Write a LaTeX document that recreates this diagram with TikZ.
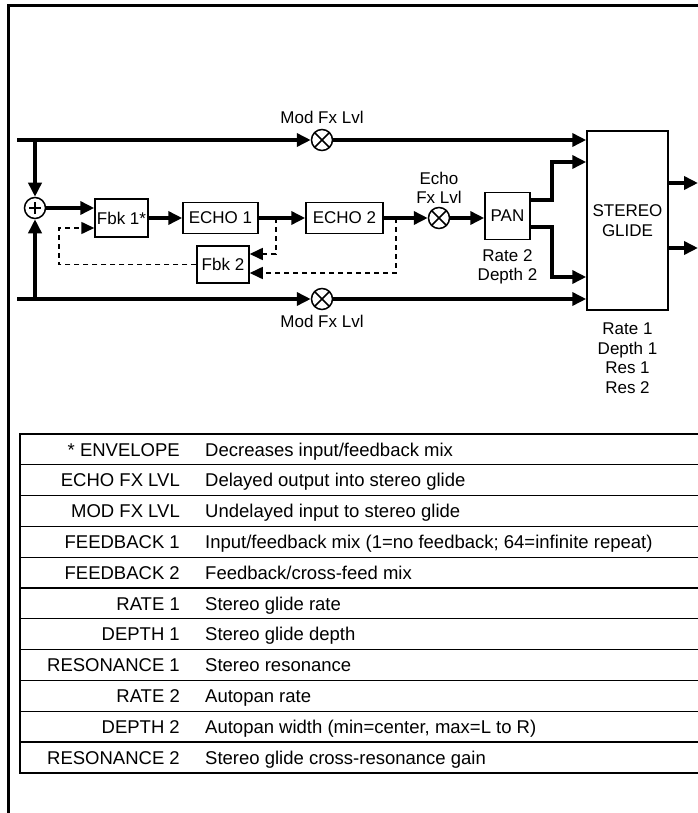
\documentclass[tikz,border=0pt]{standalone}
\usepackage{fontspec}
\setmainfont{Liberation Sans}
\usetikzlibrary{arrows.meta,positioning,calc}

\newcommand\dfont{\fontsize{17}{19.5}\selectfont}
\newcommand\tfont{\fontsize{18.5}{21}\selectfont}

\tikzset{
  sig/.style={line width=3.5, -{Triangle[length=14pt,width=13pt]}},
  fb/.style={line width=1.6, dash pattern=on 5pt off 4pt, -{Triangle[length=13pt,width=12pt]}},
  blk/.style={draw, line width=1.5, inner sep=0, font=\dfont, align=center},
  mult/.style={circle, draw, line width=1.5, minimum size=21, inner sep=0,
    path picture={\draw[line width=1.5] (path picture bounding box.south west) -- (path picture bounding box.north east)
      (path picture bounding box.north west) -- (path picture bounding box.south east);}},
  sumc/.style={circle, draw, line width=1.5, minimum size=21, inner sep=0,
    path picture={\draw[line width=1.3] (path picture bounding box.center) ++(-6pt,0) -- ++(12pt,0)
      (path picture bounding box.center) ++(0,-6pt) -- ++(0,12pt);}},
  lbl/.style={font=\dfont, align=center, inner sep=0},
  tkey/.style={font=\tfont, anchor=east, inner sep=0, text height=15pt, text depth=1.8pt},
  tdesc/.style={font=\tfont, anchor=west, inner sep=0, text height=15pt, text depth=1.8pt}
}

\begin{document}
\begin{tikzpicture}[x=1pt,y=-1pt]
\useasboundingbox (0,0) rectangle (698,813);
\draw[line width=3] (8,813) -- (8,6) -- (698,6);

\coordinate (intop) at (17,140);
\coordinate (inbot) at (17,299);
\node[sumc] (sum) at (35,208) {};
\node[mult, label={[lbl, label distance=5]above:Mod Fx Lvl}] (modtop) at (322,140) {};
\node[mult, label={[lbl, label distance=5]below:Mod Fx Lvl}] (modbot) at (322,299) {};
\node[blk, minimum width=53, minimum height=38] (fbk1) at (121.5,218) {Fbk 1*};
\node[blk, minimum width=75, minimum height=31] (echo1) at (220.5,218) {ECHO 1};
\node[blk, minimum width=77, minimum height=31] (echo2) at (344.5,218) {ECHO 2};
\node[mult, label={[lbl, label distance=3]above:Echo\\Fx Lvl}] (echolvl) at (439,218) {};
\node[blk, minimum width=45, minimum height=47, label={[lbl, label distance=9]below:Rate 2\\Depth 2}] (pan) at (507.5,216) {PAN};
\node[blk, minimum width=52, minimum height=37] (fbk2) at (223,264.5) {Fbk 2};
\node[blk, minimum width=81, minimum height=179,
  label={[lbl, label distance=12]below:Rate 1\\Depth 1\\Res 1\\Res 2}] (glide) at (627.5,220.5) {STEREO\\GLIDE};
\coordinate (outl) at (698,183);
\coordinate (outr) at (698,248);

\coordinate (tap1) at (276,218);
\coordinate (tap2) at (396,218);
\coordinate (fbret) at (59,228);
\draw[fb] (tap1) |- ([yshift=10.5pt]fbk2.east);
\draw[fb] (tap2) |- ([yshift=-8.5pt]fbk2.east);
\draw[fb] (fbk2.west) -| (fbret) -- (fbret -| fbk1.west);

\draw[sig] (intop) -- (modtop);
\draw[sig] (modtop) -- (modtop -| glide.west);
\draw[sig] (sum |- intop) -- (sum);
\draw[sig] (inbot) -- (modbot);
\draw[sig] (modbot) -- (modbot -| glide.west);
\draw[sig] (sum |- inbot) -- (sum);
\draw[sig] (sum) -- (sum -| fbk1.west);
\draw[sig] (fbk1) -- (echo1);
\draw[sig] (echo1) -- (echo2);
\draw[sig] (echo2) -- (echolvl);
\draw[sig] (echolvl) -- (echolvl -| pan.west);
\draw[sig] ([yshift=16pt]pan.east) -- ++(21,0) |- ([yshift=58.5pt]glide.west);
\draw[sig] ([yshift=-11pt]pan.east) -- ++(21,0) |- ([yshift=-56.5pt]glide.west);
\draw[sig] ([yshift=37.5pt]glide.east) -- (outl);
\draw[sig] ([yshift=-27.5pt]glide.east) -- (outr);

\foreach \lab/\txt [count=\i] in {
  {* ENVELOPE}/{Decreases input/feedback mix},
  {ECHO FX LVL}/{Delayed output into stereo glide},
  {MOD FX LVL}/{Undelayed input to stereo glide},
  {FEEDBACK 1}/{Input/feedback mix (1=no feedback; 64=infinite repeat)},
  {FEEDBACK 2}/{Feedback/cross-feed mix},
  {RATE 1}/{Stereo glide rate},
  {DEPTH 1}/{Stereo glide depth},
  {RESONANCE 1}/{Stereo resonance},
  {RATE 2}/{Autopan rate},
  {DEPTH 2}/{Autopan width (min=center, max=L to R)},
  {RESONANCE 2}/{Stereo glide cross-resonance gain}}{
  \node[tkey] (key\i) at (180,418.6+30.8*\i) {\lab};
  \node[tdesc] (desc\i) at (205,418.6+30.8*\i) {\txt};
}
\foreach \i in {1,...,10}
  \draw[line width=1.2] (20,434+30.8*\i) -- (700,434+30.8*\i);
\draw[line width=2.5] (700,434) -| (20,772.8) -- (700,772.8);
\end{tikzpicture}
\end{document}
